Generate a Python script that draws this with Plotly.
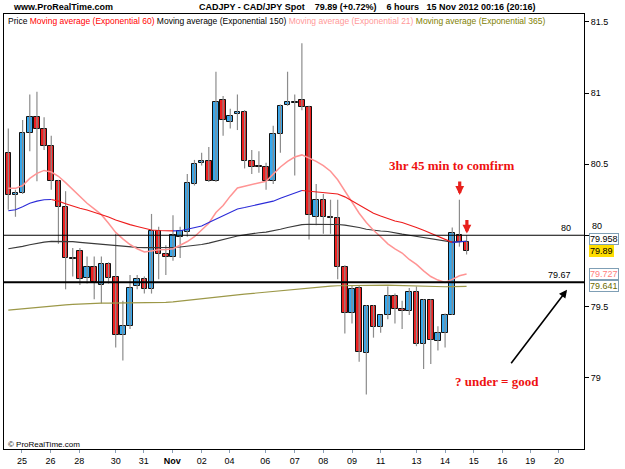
import plotly.graph_objects as go

# ---------------- data ----------------
opens = [80.58, 80.28, 80.30, 80.72, 80.83, 80.75, 80.63, 80.38, 80.20, 79.84,
         79.89, 79.70, 79.78, 79.65, 79.80, 79.71, 79.30, 79.36, 79.64, 79.69,
         79.62, 80.03, 79.87, 79.85, 79.99, 80.02, 80.36, 80.51, 80.52, 80.38,
         80.95, 80.80, 80.855, 80.87, 80.52, 80.49, 80.48, 80.38, 80.71, 80.915,
         80.932, 80.95, 80.90, 80.125, 80.25, 80.125, 80.12, 79.78, 79.45, 79.63,
         79.17, 79.505, 79.355, 79.44, 79.57, 79.48, 79.465, 79.60, 79.235, 79.545,
         79.255, 79.31, 79.44, 80.00, 79.95]
highs = [80.75, 80.32, 80.81, 80.99, 81.01, 80.83, 80.70, 80.39, 80.31, 79.91,
         79.91, 79.85, 79.85, 79.85, 79.81, 80.01, 79.54, 79.72, 79.72, 79.71,
         80.15, 80.06, 79.93, 80.14, 80.06, 80.43, 80.53, 80.58, 80.62, 81.15,
         80.98, 80.89, 80.99, 80.88, 80.60, 80.59, 80.51, 80.77, 80.92, 81.15,
         80.99, 81.35, 80.91, 80.36, 80.29, 80.25, 80.25, 79.79, 79.65, 79.65,
         79.51, 79.51, 79.44, 79.64, 79.59, 79.54, 79.63, 79.64, 79.55, 79.55,
         79.36, 79.45, 80.055, 80.25, 80.00]
lows = [80.18, 80.13, 80.29, 80.59, 80.38, 80.60, 80.32, 79.94, 79.62, 79.71,
        79.65, 79.66, 79.55, 79.52, 79.66, 79.21, 79.12, 79.34, 79.62, 79.59,
        79.59, 79.69, 79.72, 79.82, 79.84, 79.99, 80.35, 80.49, 80.375, 80.375,
        80.70, 80.75, 80.74, 80.47, 80.43, 80.44, 80.32, 80.36, 80.58, 80.91,
        80.42, 80.88, 79.97, 80.07, 80.01, 80.01, 79.69, 79.31, 79.38, 79.11,
        78.88, 79.28, 79.315, 79.41, 79.38, 79.34, 79.44, 79.22, 79.06, 79.095,
        79.19, 79.21, 79.44, 79.92, 79.865]
closes = [80.28, 80.30, 80.72, 80.83, 80.75, 80.63, 80.38, 80.20, 79.84, 79.835,
          79.69, 79.78, 79.67, 79.80, 79.70, 79.30, 79.36, 79.63, 79.69, 79.62,
          80.03, 79.87, 79.85, 80.00, 80.03, 80.37, 80.50, 80.52, 80.38, 80.935,
          80.81, 80.84, 80.87, 80.52, 80.48, 80.477, 80.38, 80.71, 80.91, 80.935,
          80.938, 80.90, 80.14, 80.25, 80.125, 80.12, 79.78, 79.45, 79.62, 79.18,
          79.505, 79.355, 79.44, 79.57, 79.48, 79.465, 79.60, 79.235, 79.545, 79.265,
          79.31, 79.44, 80.015, 79.95, 79.89]

ema21 = [80.33, 80.33, 80.35, 80.40, 80.435, 80.456, 80.445, 80.415, 80.37, 80.32,
         80.27, 80.225, 80.185, 80.145, 80.085, 80.02, 79.975, 79.935, 79.905, 79.882,
         79.89, 79.898, 79.90, 79.905, 79.93, 79.956, 79.99, 80.04, 80.085, 80.16,
         80.21, 80.275, 80.333, 80.345, 80.355, 80.365, 80.38, 80.43, 80.48, 80.52,
         80.55, 80.565, 80.545, 80.52, 80.49, 80.45, 80.39, 80.31, 80.23, 80.155,
         80.09, 80.035, 79.99, 79.94, 79.905, 79.875, 79.83, 79.795, 79.75, 79.71,
         79.685, 79.668, 79.69, 79.715, 79.727]
ema60 = [80.172, 80.18, 80.20, 80.225, 80.24, 80.25, 80.252, 80.24, 80.222, 80.205,
         80.19, 80.178, 80.163, 80.147, 80.128, 80.108, 80.09, 80.075, 80.062, 80.05,
         80.037, 80.034, 80.032, 80.031, 80.032, 80.042, 80.056, 80.065, 80.09, 80.115,
         80.135, 80.165, 80.185, 80.195, 80.205, 80.215, 80.225, 80.24, 80.26, 80.28,
         80.30, 80.315, 80.31, 80.306, 80.302, 80.299, 80.29, 80.27, 80.24, 80.21,
         80.185, 80.155, 80.135, 80.115, 80.10, 80.09, 80.075, 80.055, 80.035, 80.015,
         79.995, 79.97, 79.95, 79.955, 79.958]
ema150 = [79.905, 79.912, 79.922, 79.933, 79.943, 79.952, 79.957, 79.958, 79.957, 79.955,
          79.95, 79.945, 79.94, 79.935, 79.93, 79.925, 79.921, 79.918, 79.915, 79.913,
          79.912, 79.912, 79.912, 79.914, 79.918, 79.922, 79.928, 79.935, 79.945, 79.958,
          79.972, 79.985, 79.995, 80.003, 80.012, 80.018, 80.022, 80.03, 80.042, 80.055,
          80.067, 80.075, 80.077, 80.078, 80.078, 80.078, 80.076, 80.071, 80.065, 80.055,
          80.042, 80.034, 80.03, 80.027, 80.02, 80.008, 80.0, 79.992, 79.985, 79.975,
          79.966, 79.958, 79.952, 79.955, 79.958]
ema365 = [79.473, 79.478, 79.484, 79.49, 79.496, 79.50, 79.505, 79.508, 79.511, 79.514,
          79.517, 79.519, 79.521, 79.523, 79.523, 79.523, 79.523, 79.523, 79.524, 79.525,
          79.526, 79.527, 79.528, 79.532, 79.538, 79.543, 79.548, 79.552, 79.558, 79.564,
          79.57, 79.576, 79.581, 79.586, 79.591, 79.596, 79.601, 79.606, 79.611, 79.617,
          79.622, 79.627, 79.631, 79.635, 79.638, 79.642, 79.645, 79.646, 79.647, 79.648,
          79.649, 79.65, 79.65, 79.649, 79.647, 79.645, 79.643, 79.641, 79.64, 79.639,
          79.638, 79.638, 79.639, 79.64, 79.641]

tick_pos = [1.9, 5.9, 9.9, 15.0, 18.9, 22.9, 27.0, 30.9, 35.9, 40.0,
            44.0, 48.0, 52.0, 57.0, 61.0, 65.0, 69.0, 72.9, 76.9]
tick_labels = ["25", "26", "28", "30", "31", "<b>Nov</b>", "02", "04", "06", "07",
               "08", "09", "11", "13", "14", "15", "16", "19", "20"]
price_ticks = [79, 79.5, 80, 80.5, 81, 81.5]
price_tick_labels = ["79", "79.5", "80", "80.5", "81", "81.5"]

levels = [80.0, 79.67]
level_labels = ["80", "79.67"]

value_labels = ["79.958", "79.89", "79.727", "79.641"]
value_levels = [79.958, 79.89, 79.727, 79.641]

# ---------------- figure ----------------
W, H = 625, 469
ML, MR, MT, MB = 3, 41, 14, 15
PW, PH = W - ML - MR, H - MT - MB


def fx(px):
    return (px - ML) / PW


def fy(py):
    return (H - MB - py) / PH


idx = list(range(len(opens)))
UP = "#36a8ee"
DN = "#ee2020"
FONT = "Liberation Sans, Arial, sans-serif"
SERIF = "Liberation Serif, Times New Roman, serif"

fig = go.Figure()

# wicks
wx, wy = [], []
for i in idx:
    wx += [i, i, None]
    wy += [lows[i], highs[i], None]
fig.add_trace(go.Scatter(x=wx, y=wy, mode="lines",
                         line=dict(color="#8c8c8c", width=1.2),
                         hoverinfo="skip", showlegend=False))

# bodies
for up, col in [(True, UP), (False, DN)]:
    sel = [i for i in idx if (closes[i] >= opens[i]) == up]
    fig.add_trace(go.Bar(
        x=sel,
        base=[min(opens[i], closes[i]) for i in sel],
        y=[max(abs(closes[i] - opens[i]), 0.004) for i in sel],
        width=0.78,
        marker=dict(color=col, line=dict(color="#111111", width=1)),
        hoverinfo="skip", showlegend=False))

# moving averages
fig.add_trace(go.Scatter(x=idx, y=ema365, mode="lines",
                         line=dict(color="#9c9848", width=1.2),
                         hoverinfo="skip", showlegend=False))
fig.add_trace(go.Scatter(x=idx, y=ema150, mode="lines",
                         line=dict(color="#3a3a3a", width=1.1),
                         hoverinfo="skip", showlegend=False))
fig.add_trace(go.Scatter(x=idx, y=ema21, mode="lines",
                         line=dict(color="#ff9494", width=1.5),
                         hoverinfo="skip", showlegend=False))

# EMA60 coloured by slope (blue rising / red falling)
seg_start = 0
for i in range(1, len(ema60)):
    rising = ema60[i] >= ema60[i - 1]
    last = i == len(ema60) - 1
    nxt_rising = (ema60[i + 1] >= ema60[i]) if not last else rising
    if last or nxt_rising != rising:
        fig.add_trace(go.Scatter(
            x=idx[seg_start:i + 1], y=ema60[seg_start:i + 1], mode="lines",
            line=dict(color="#2a2ad8" if rising else "#ee1c1c", width=1.1),
            hoverinfo="skip", showlegend=False))
        seg_start = i

shapes = []
for lv, lw in zip(levels, [1.1, 2]):
    shapes.append(dict(type="line", xref="paper", yref="y", x0=0, x1=1,
                       y0=lv, y1=lv, line=dict(color="black", width=lw),
                       layer="above"))

ann = []
for lv, txt in zip(levels, level_labels):
    ann.append(dict(x=fx(573), xref="paper", y=lv, yref="y", text=txt,
                    showarrow=False, xanchor="right", yanchor="bottom",
                    font=dict(size=9, color="black", family=FONT)))

# the "80" axis label sits just above the value boxes
ann.append(dict(x=1, xref="paper", y=price_ticks[2], yref="y",
                text=price_tick_labels[2], showarrow=False,
                xanchor="left", yanchor="bottom", xshift=6, yshift=2,
                font=dict(size=9, color="black", family=FONT)))

# value boxes on the right
box_styles = [
    dict(color="black", bg="white", border="#7f9fb5", shift=2),
    dict(color="black", bg="#ffdd00", border="#ffdd00", shift=0),
    dict(color="#ff8080", bg="white", border="#7f9fb5", shift=0),
    dict(color="#6b6b00", bg="white", border="#7f9fb5", shift=0),
]
for v, txt, st in zip(value_levels, value_labels, box_styles):
    ann.append(dict(x=1, xref="paper", y=v, yref="y", text=txt, showarrow=False,
                    xanchor="left", yanchor="middle", xshift=5, yshift=st["shift"],
                    bgcolor=st["bg"], bordercolor=st["border"], borderwidth=1,
                    borderpad=0,
                    font=dict(size=9, color=st["color"], family=FONT)))

# header texts
ann.append(dict(x=fx(10), xref="paper", y=fy(7), yref="paper",
                text="<b>www.ProRealTime.com</b>", showarrow=False,
                xanchor="left", yanchor="middle",
                font=dict(size=9, color="black", family=FONT)))
nb = "\u00a0"
ann.append(dict(x=fx(196), xref="paper", y=fy(7), yref="paper",
                text="<b>CADJPY - CAD/JPY Spot" + nb * 4 + "79.89 (+0.72%)" + nb * 4 +
                     "6 hours" + nb * 3 + "15 Nov 2012 00:16 (20:16)</b>",
                showarrow=False, xanchor="left", yanchor="middle",
                font=dict(size=9, color="black", family=FONT)))
ann.append(dict(x=fx(5), xref="paper", y=fy(21), yref="paper",
                text="Price <span style='color:#ff0000'>Moving average (Exponential 60)</span> "
                     "Moving average (Exponential 150) "
                     "<span style='color:#ff9999'>Moving average (Exponential 21)</span> "
                     "<span style='color:#808000'>Moving average (Exponential 365)</span>",
                showarrow=False, xanchor="left", yanchor="middle",
                font=dict(size=8.5, color="black", family=FONT)))
ann.append(dict(x=fx(5), xref="paper", y=fy(449), yref="paper",
                text="\u00a9 ProRealTime.com", showarrow=False,
                xanchor="left", yanchor="middle",
                font=dict(size=8, color="black", family=FONT)))

# hand-drawn comments
ann.append(dict(x=fx(387), xref="paper", y=fy(167), yref="paper",
                text="<b>3hr 45 min to comfirm</b>", showarrow=False,
                xanchor="left", yanchor="middle",
                font=dict(size=13, color="#ee1111", family=SERIF)))
ann.append(dict(x=fx(453), xref="paper", y=fy(386), yref="paper",
                text="<b>? under = good</b>", showarrow=False,
                xanchor="left", yanchor="middle",
                font=dict(size=13, color="#ee1111", family=SERIF)))
for (tx, ty) in [(459.5, 197), (466.7, 236)]:
    ann.append(dict(x=fx(tx), xref="paper", y=fy(ty), yref="paper", text="",
                    showarrow=True, ax=0, ay=-15, arrowhead=2, arrowsize=0.55,
                    arrowwidth=3.2, arrowcolor="#e8201c"))
ann.append(dict(x=fx(567), xref="paper", y=fy(293), yref="paper", text="",
                showarrow=True, ax=-57, ay=75, arrowhead=2, arrowsize=1,
                arrowwidth=1.6, arrowcolor="black"))

fig.update_layout(
    width=W, height=H,
    margin=dict(l=ML, r=MR, t=MT, b=MB, pad=0),
    paper_bgcolor="white", plot_bgcolor="white",
    barmode="overlay", bargap=0,
    showlegend=False,
    font=dict(family=FONT, size=9, color="black"),
    shapes=shapes, annotations=ann,
    xaxis=dict(range=[-0.6, 80.4], showgrid=False, zeroline=False,
               tickmode="array", tickvals=tick_pos, ticktext=tick_labels,
               ticks="outside", ticklen=3, tickcolor="#8aa0b8",
               tickfont=dict(size=9, family=FONT),
               showline=True, linecolor="black", linewidth=1, mirror=True),
    yaxis=dict(range=[78.497, 81.556], side="right", showgrid=False,
               zeroline=False, tickmode="array", tickvals=price_ticks,
               ticktext=[t if v != 80 else "" for v, t in zip(price_ticks, price_tick_labels)],
               ticks="outside", ticklen=4,
               tickcolor="black", tickfont=dict(size=9, family=FONT),
               showline=True, linecolor="black", linewidth=1, mirror=True),
)

fig.write_html("out.html")
